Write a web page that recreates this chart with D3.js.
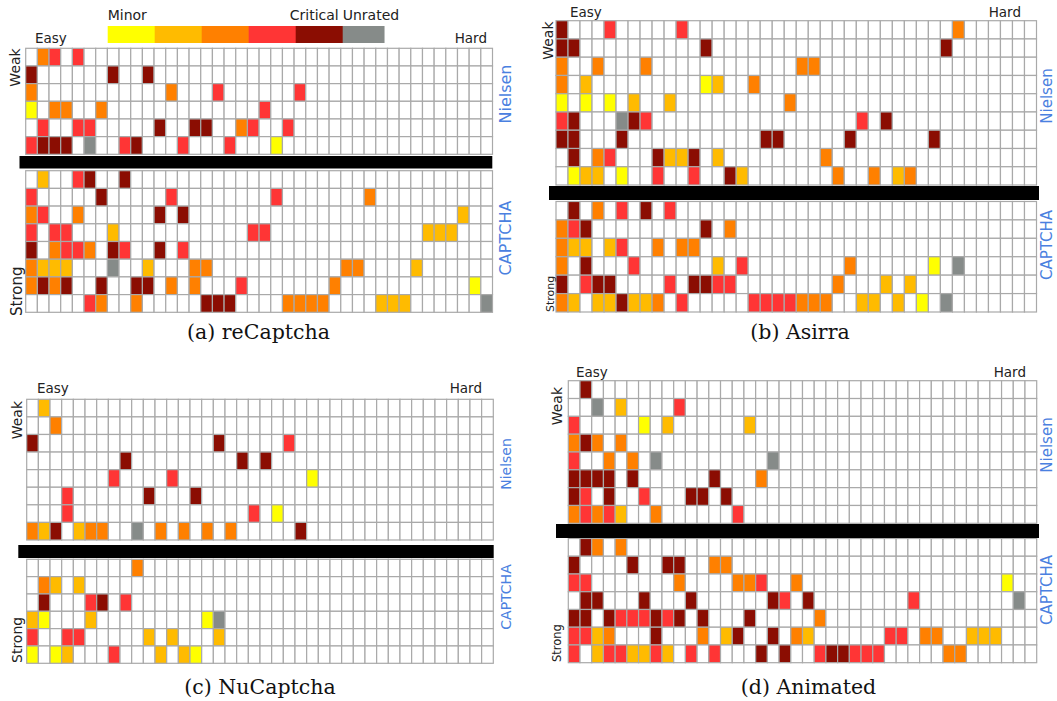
<!DOCTYPE html>
<html>
<head>
<meta charset="utf-8">
<script src="https://cdn.jsdelivr.net/npm/d3@7"></script>
<style>
  body { margin: 0; background: #fff; }
  text { font-family: "DejaVu Sans", sans-serif; fill: #222; }
  .side { fill: #4a80e0; }
  .caption { font-family: "DejaVu Serif", serif; fill: #111; }
</style>
</head>
<body>
<div id="chart"></div>
<script>
// severity levels: Minor ... Critical, then Unrated
var levelCodes = ["y", "a", "o", "r", "d", "g"];
var levelColors = ["#ffff00", "#ffbb00", "#ff8000", "#ff3535", "#8b0d02", "#868b89"];
var legendLabels = ["Minor", "", "", "", "Critical", "Unrated"];
var numCols = 40;
var captions = ["(a) reCaptcha", "(b) Asirra", "(c) NuCaptcha", "(d) Animated"];

// one string per row, "column + level code" for each coloured cell
var recaptchaNielsen = [
  "1o 2r 4r",
  "0d 7d 10d",
  "0o 12o 16r 23r",
  "0y 2o 3o 6o 20r",
  "1r 4r 5r 11d 14d 15d 18o 19r 22r",
  "0r 1d 2d 3d 5g 8r 9d 13r 17r 21y"
];
var recaptchaCaptcha = [
  "1a 4r 5d 8d",
  "0r 6d 12r 21r 29o",
  "0o 1r 4o 11d 13d 37a",
  "0r 2r 3r 7a 19r 20r 34a 35a 36a",
  "0d 2o 3r 4r 5o 7d 8r 11d 13r",
  "0o 1a 2a 3a 7g 10a 14o 15o 27o 28o 33a",
  "0o 1d 2o 3d 6d 9d 10d 12o 14o 18r 26o 38y",
  "5r 6o 9o 15d 16d 17d 22o 23o 24o 25o 30a 31a 32a 39g"
];
var asirraNielsen = [
  "0d 4r 10r 33o",
  "0d 1d 12d 32d",
  "0o 3o 7o 20o 21o",
  "0o 2a 12y 13a 16o",
  "0y 2y 4y 6a 9a 19o",
  "0r 1d 5g 6d 7r 25r 27d",
  "0d 1d 5d 17d 18d 24d 31d",
  "1d 3o 4r 8d 9a 10a 11d 13a 22o",
  "1y 2a 3a 5y 8r 11r 14d 15a 23o 26o 28a 29o"
];
var asirraCaptcha = [
  "1d 3o 5r 7d 9r",
  "0o 1r 2d 12d 14o",
  "0o 1a 2a 4a 5r 8o 10o 11o",
  "0o 2d 6r 13a 15r 24o 31y 33g",
  "0d 2r 3d 4d 9r 11d 12d 13r 14r 23o 27a 29a",
  "0o 1a 3a 4a 5d 6a 7a 8o 10r 16r 17r 18r 19r 20o 21o 22o 25a 26a 28a 30y 32g"
];
var nucaptchaNielsen = [
  "1a",
  "2o",
  "0d 16d 22r",
  "8d 18d 20d",
  "7r 12r 24y",
  "3r 10d 14d",
  "3r 19r 21y",
  "0o 1a 2d 4a 5o 6o 9g 11o 13o 15o 17o 23d"
];
var nucaptchaCaptcha = [
  "9o",
  "1o 2a 4a",
  "1d 5r 6d 8r",
  "0a 1y 5a 15y 16g",
  "0r 3r 4r 10a 12a 16a",
  "0y 2y 3a 7r 11a 13a 14y"
];
var animatedNielsen = [
  "1d",
  "2g 4a 9r",
  "0r 6y 8a 15a",
  "0o 1d 2o 4o",
  "0r 3o 5o 7g 17g",
  "0d 1d 2d 3d 5d 12d 16o",
  "0d 1r 3d 6r 10d 11d 13d",
  "0o 1r 2o 3r 4a 7o 14r"
];
var animatedCaptcha = [
  "1d 2o 4o",
  "0d 5d 8d 9d 12o 13o",
  "0r 1r 9o 14o 15o 16r 19o 37y",
  "1d 2d 6d 10d 17d 18r 20d 29r 38g",
  "0d 1d 3d 4r 5r 6r 7d 8r 9d 11d 15d 21o",
  "0r 1r 2a 3o 7d 11o 13a 14d 17d 19o 20a 27r 28r 30o 31o 34a 35a 36a",
  "0r 2a 3r 4r 5a 6a 7r 8a 10r 12r 16d 18d 21r 22d 23d 24r 25r 26r 32o 33o"
];

var svg = d3.select("#chart")
  .append("svg")
  .attr("width", 1057)
  .attr("height", 701);

// layout of the four panels (page pixels)
var panels = [
  {nielsen: recaptchaNielsen, captcha: recaptchaCaptcha, gx: [25.7, 492.5], ny: [48.3, 154.3], bar: [19.5, 492.3, 156, 168.5], cy: [170.7, 312.3],
   easy: [35, 43], hard: [487, 43], weak: [15, 48.3, 14], strong: [17, 316, 15], side: [505, 94, 238, 16], cap: [258.5, 339]},
  {nielsen: asirraNielsen, captcha: asirraCaptcha, gx: [556, 1036.5], ny: [20.7, 185], bar: [549, 1039, 186, 200], cy: [201.5, 312],
   easy: [570, 17], hard: [1021, 17], weak: [548, 21.5, 14], strong: [550, 312, 11], side: [1047, 96, 245, 15], cap: [800, 339]},
  {nielsen: nucaptchaNielsen, captcha: nucaptchaCaptcha, gx: [26.7, 493.3], ny: [399.3, 540], bar: [18.3, 493.7, 545, 558], cy: [559.3, 663.3],
   easy: [37, 393], hard: [482, 393], weak: [17, 401, 14], strong: [17, 663, 14], side: [506, 464, 597, 14], cap: [260, 694]},
  {nielsen: animatedNielsen, captcha: animatedCaptcha, gx: [568.3, 1036.7], ny: [380.7, 523.3], bar: [556, 1039, 524, 538], cy: [538.5, 662.7],
   easy: [576, 377], hard: [1026, 377], weak: [557, 387, 14], strong: [557, 662, 11.5], side: [1047, 445, 590, 15], cap: [808.5, 694]}
];

function parseRows(rows) {
  var cells = [];
  rows.forEach(function(r, i) {
    var filled = {};
    r.split(" ").filter(Boolean).forEach(function(t) {
      filled[+t.slice(0, -1)] = levelCodes.indexOf(t.slice(-1));
    });
    d3.range(numCols).forEach(function(c) {
      cells.push({row: i, col: c, level: c in filled ? filled[c] : -1});
    });
  });
  return cells;
}

function drawGrid(g, rows, xRange, yRange) {
  var x = d3.scaleBand().domain(d3.range(numCols)).range(xRange);
  var y = d3.scaleBand().domain(d3.range(rows.length)).range(yRange);
  g.append("g").selectAll("rect")
    .data(parseRows(rows))
    .enter()
    .append("rect")
    .attr("x", d => x(d.col))
    .attr("y", d => y(d.row))
    .attr("width", x.bandwidth())
    .attr("height", y.bandwidth())
    .attr("fill", d => d.level < 0 ? "#fff" : levelColors[d.level])
    .attr("stroke", "#a9a9a9")
    .attr("stroke-width", 1.2);
}

function rotText(g, x, y, size, anchor, label, cls) {
  g.append("text")
    .attr("class", cls || null)
    .attr("transform", `translate(${x}, ${y}) rotate(-90)`)
    .attr("dy", "0.35em")
    .attr("text-anchor", anchor)
    .style("font-size", size + "px")
    .text(label);
}

panels.forEach(function(p, i) {
  var g = svg.append("g");
  drawGrid(g, p.nielsen, p.gx, p.ny);
  drawGrid(g, p.captcha, p.gx, p.cy);

  // thick divider between the two halves
  g.append("rect")
    .attr("x", p.bar[0])
    .attr("y", p.bar[2])
    .attr("width", p.bar[1] - p.bar[0])
    .attr("height", p.bar[3] - p.bar[2])
    .attr("fill", "#000");

  g.append("text").attr("x", p.easy[0]).attr("y", p.easy[1])
    .style("font-size", "13.5px").text("Easy");
  g.append("text").attr("x", p.hard[0]).attr("y", p.hard[1])
    .attr("text-anchor", "end").style("font-size", "13.5px").text("Hard");

  rotText(g, p.weak[0], p.weak[1], p.weak[2], "end", "Weak");
  rotText(g, p.strong[0], p.strong[1], p.strong[2], "start", "Strong");
  rotText(g, p.side[0], p.side[1], p.side[3], "middle", "Nielsen", "side");
  rotText(g, p.side[0], p.side[2], p.side[3], "middle", "CAPTCHA", "side");

  g.append("text")
    .attr("class", "caption")
    .attr("x", p.cap[0])
    .attr("y", p.cap[1])
    .attr("text-anchor", "middle")
    .style("font-size", "20.5px")
    .text(captions[i]);
});

// colour legend above panel (a)
var legendX = d3.scaleBand().domain(d3.range(levelColors.length)).range([107.7, 389.7]);
var legend = svg.append("g");
legend.selectAll("rect")
  .data(levelColors)
  .enter()
  .append("rect")
  .attr("x", (d, i) => legendX(i))
  .attr("y", 26)
  .attr("width", (d, i) => i === levelColors.length - 1 ? legendX.bandwidth() * 0.89 : legendX.bandwidth() + 0.5)
  .attr("height", 17)
  .attr("fill", d => d);

legend.append("text").attr("x", legendX(0)).attr("y", 20)
  .style("font-size", "14px").text(legendLabels[0]);
legend.append("text").attr("x", legendX(5) - 4).attr("y", 20)
  .attr("text-anchor", "end").style("font-size", "14px").text(legendLabels[4]);
legend.append("text").attr("x", legendX(5)).attr("y", 20)
  .style("font-size", "14px").text(legendLabels[5]);
</script>
</body>
</html>
